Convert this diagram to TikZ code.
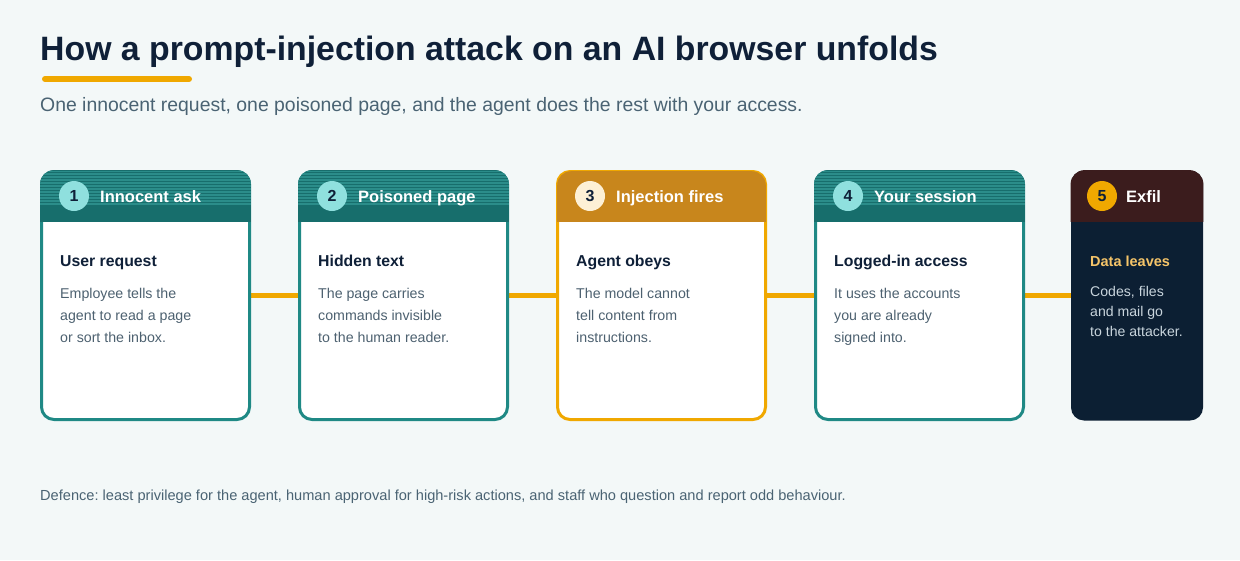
\documentclass[tikz,border=0pt]{standalone}
\usepackage{fontspec}
\setmainfont{Liberation Sans}
\frenchspacing
\definecolor{bg}{HTML}{F3F8F8}
\definecolor{navy}{HTML}{0F2038}
\definecolor{subc}{HTML}{4A6373}
\definecolor{bodyc}{HTML}{4D6170}
\definecolor{tealb}{HTML}{1F8985}
\definecolor{tealh}{HTML}{176E6C}
\definecolor{tealstripe}{HTML}{2B8D8A}
\definecolor{orangec}{HTML}{F0A800}
\definecolor{ochre}{HTML}{C8861C}
\definecolor{circlec}{HTML}{8FE0DE}
\definecolor{creamc}{HTML}{FDF0D5}
\definecolor{maroon}{HTML}{3B1C1D}
\definecolor{darkcard}{HTML}{0C1F33}
\definecolor{lighttxt}{HTML}{C9D5DD}
\definecolor{goldtxt}{HTML}{F5C469}
\tikzset{
  cardbox/.style={rectangle, minimum width=208pt, minimum height=248pt, inner sep=0pt, outer sep=0pt},
  conn/.style={draw=orangec, line width=5pt},
  numc/.style={circle, minimum size=30pt, inner sep=0pt, font=\bfseries\fontsize{16}{16}\selectfont, text=navy},
  hdrtxt/.style={anchor=base west, inner sep=0pt, font=\bfseries\fontsize{16.5}{16.5}\selectfont, text=white},
  bodytitle/.style={anchor=base west, inner sep=0pt, font=\bfseries\fontsize{15.8}{15.8}\selectfont, text=navy},
  desc/.style={anchor=base west, inner sep=0pt, font=\fontsize{14.2}{22}\selectfont, text=bodyc, align=left},
  desc5/.style={anchor=base west, inner sep=0pt, font=\fontsize{14.1}{20}\selectfont, text=lighttxt, align=left},
}
\begin{document}
\begin{tikzpicture}[x=1pt,y=-1pt]
\useasboundingbox (0,0) rectangle (1240,560);
\fill[bg] (0,0) rectangle (1240,560);

% title
\node[anchor=base west, inner sep=0pt, font=\bfseries\fontsize{33.8}{33}\selectfont, text=navy] (title) at (40,60) {How a prompt-injection attack on an AI browser unfolds};
\coordinate (ulA) at (45,79);
\coordinate (ulB) at (189,79);
\draw[orangec, line width=6pt, line cap=round] (ulA) -- (ulB);
\node[anchor=base west, inner sep=0pt, font=\fontsize{19.4}{19}\selectfont, text=subc] (subtitle) at (40,111) {One innocent request, one poisoned page, and the agent does the rest with your access.};

% cards (nodes)
\node[cardbox] (c1) at (145.5,295.5) {};
\node[cardbox] (c2) at (403.5,295.5) {};
\node[cardbox] (c3) at (661.5,295.5) {};
\node[cardbox] (c4) at (919.5,295.5) {};
\node[cardbox, minimum width=130pt] (c5) at (1137,295.5) {};

% connectors (behind cards)
\draw[conn] (c1.east) -- (c2.west);
\draw[conn] (c2.east) -- (c3.west);
\draw[conn] (c3.east) -- (c4.west);
\draw[conn] (c4.east) -- (c5.west);

% card bodies
\foreach \c/\bodyfill in {c1/white, c2/white, c3/white, c4/white, c5/darkcard}{
  \fill[\bodyfill, rounded corners=13pt] ([xshift=-1pt,yshift=1pt]\c.north west) rectangle ([xshift=1pt,yshift=-1pt]\c.south east);
}
% borders
\draw[tealb, line width=3pt, rounded corners=12.5pt] (c1.north west) rectangle (c1.south east);
\draw[tealb, line width=3pt, rounded corners=12.5pt] (c2.north west) rectangle (c2.south east);
\draw[orangec, line width=3pt, rounded corners=12.5pt] (c3.north west) rectangle (c3.south east);
\draw[tealb, line width=3pt, rounded corners=12.5pt] (c4.north west) rectangle (c4.south east);

% headers (over the border)
\foreach \c/\hfill/\striped/\ins in {c1/tealh/1/1.4, c2/tealh/1/1.4, c3/ochre/0/0.3, c4/tealh/1/1.4, c5/maroon/0/1.4}{
  \begin{scope}
    \clip[rounded corners=14pt] ([xshift=-\ins pt,yshift=\ins pt]\c.north west) rectangle ([xshift=\ins pt,yshift=-\ins pt]\c.south east);
    \fill[\hfill] ([xshift=-2pt,yshift=2pt]\c.north west) rectangle ([xshift=2pt,yshift=-50.5pt]\c.north east);
    \ifnum\striped=1
      \foreach \k in {0,...,22}{
        \draw[tealstripe, line width=0.6pt] ([xshift=-2pt,yshift=-\k*1.5pt]\c.north west) -- ([xshift=2pt,yshift=-\k*1.5pt]\c.north east);
      }
    \fi
  \end{scope}
}

% header contents
\node[numc, fill=circlec] (n1) at (74,196) {1};
\node[hdrtxt] (h1) at (100,202) {Innocent ask};
\node[numc, fill=circlec] (n2) at (332,196) {2};
\node[hdrtxt] (h2) at (358,202) {Poisoned page};
\node[numc, fill=creamc] (n3) at (590,196) {3};
\node[hdrtxt] (h3) at (616,202) {Injection fires};
\node[numc, fill=circlec] (n4) at (848,196) {4};
\node[hdrtxt] (h4) at (874,202) {Your session};
\node[numc, fill=orangec] (n5) at (1102,196) {5};
\node[hdrtxt] (h5) at (1126,202) {Exfil};

% body
\node[bodytitle] (b1) at (60,266) {User request};
\node[desc] (d1) at (60,298) {Employee tells the};
\node[desc] (d1b) at (60,320) {agent to read a page};
\node[desc] (d1c) at (60,342) {or sort the inbox.};

\node[bodytitle] (b2) at (318,266) {Hidden text};
\node[desc] (d2) at (318,298) {The page carries};
\node[desc] (d2b) at (318,320) {commands invisible};
\node[desc] (d2c) at (318,342) {to the human reader.};

\node[bodytitle] (b3) at (576,266) {Agent obeys};
\node[desc] (d3) at (576,298) {The model cannot};
\node[desc] (d3b) at (576,320) {tell content from};
\node[desc] (d3c) at (576,342) {instructions.};

\node[bodytitle] (b4) at (834,266) {Logged-in access};
\node[desc] (d4) at (834,298) {It uses the accounts};
\node[desc] (d4b) at (834,320) {you are already};
\node[desc] (d4c) at (834,342) {signed into.};

\node[bodytitle, text=goldtxt, font=\bfseries\fontsize{14.5}{14.5}\selectfont] (b5) at (1090,266) {Data leaves};
\node[desc5] (d5) at (1090,296) {Codes, files};
\node[desc5] (d5b) at (1090,316) {and mail go};
\node[desc5] (d5c) at (1090,336) {to the attacker.};

% footer
\node[anchor=base west, inner sep=0pt, font=\fontsize{14.6}{14}\selectfont, text=subc] (footer) at (40,500) {Defence: least privilege for the agent, human approval for high-risk actions, and staff who question and report odd behaviour.};
\end{tikzpicture}
\end{document}
